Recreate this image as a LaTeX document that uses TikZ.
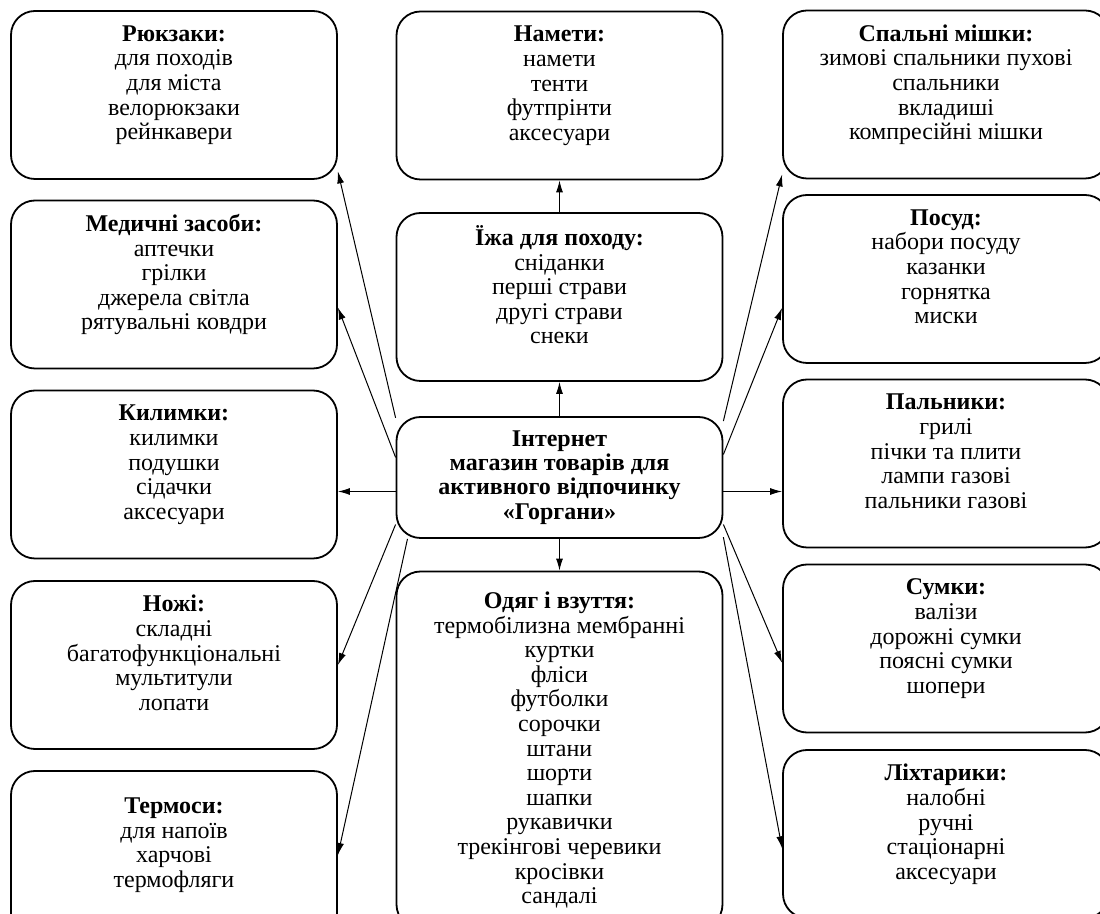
\documentclass[tikz,border=0pt]{standalone}
\usepackage{fontspec}
\setmainfont{Liberation Serif}
\usetikzlibrary{arrows.meta}

\begin{document}
\begin{tikzpicture}
    [
    x=0.5pt, y=-0.5pt,
    group/.style={draw,line width=0.9pt,rectangle,rounded corners=12pt,align=center,inner sep=0pt,minimum width=163pt,minimum height=84pt,font=\fontsize{12}{12.3}\selectfont},
    shop/.style={group,minimum height=60.5pt,font=\fontsize{12}{12.2}\selectfont\bfseries},
    arr/.style={-{Latex[length=6pt,width=3.5pt]},line width=0.5pt}
    ]
    \clip (0,0) rectangle (1100,914);
    % centre
    \node (shop) at (559.5,477.5) [shop] {Інтернет\\ магазин товарів для\\ активного відпочинку\\ «Горгани»};
    % left column
    \node (ryukzaky) at (174,95) [group] {\textbf{Рюкзаки:}\\ для походів\\ для міста\\ велорюкзаки\\ рейнкавери\\ \mbox{}};
    \node (medychni) at (174,284.5) [group] {\textbf{Медичні засоби:}\\ аптечки\\ грілки\\ джерела світла\\ рятувальні ковдри\\ \mbox{}};
    \node (kylymky) at (174,474.5) [group] {\textbf{Килимки:}\\ килимки\\ подушки\\ сідачки\\ аксесуари\\ \mbox{}};
    \node (nozhi) at (174,665) [group] {\textbf{Ножі:}\\ складні\\ багатофункціональні\\ мультитули\\ лопати\\ \mbox{}};
    \node (termosy) at (174,855) [group] {\textbf{Термоси:}\\ для напоїв\\ харчові\\ термофляги\\ \mbox{}};
    % middle column
    \node (nameti) at (559.5,95.5) [group] {\textbf{Намети:}\\ намети\\ тенти\\ футпрінти\\ аксесуари\\ \mbox{}};
    \node (yizha) at (559.5,297) [group] {\textbf{Їжа для походу:}\\ сніданки\\ перші страви\\ другі страви\\ снеки\\ \mbox{}};
    \node (odyah) at (559.5,750) [group,minimum height=178.5pt] {\textbf{Одяг і взуття:}\\ термобілизна мембранні\\ куртки\\ фліси\\ футболки\\ сорочки\\ штани\\ шорти\\ шапки\\ рукавички\\ трекінгові черевики\\ кросівки\\ сандалі};
    % right column
    \node (spalni) at (946,94.5) [group] {\textbf{Спальні мішки:}\\ зимові спальники пухові\\ спальники\\ вкладиші\\ компресійні мішки\\ \mbox{}};
    \node (posud) at (946,279) [group] {\textbf{Посуд:}\\ набори посуду\\ казанки\\ горнятка\\ миски\\ \mbox{}};
    \node (palnyky) at (946,463.5) [group] {\textbf{Пальники:}\\ грилі\\ пічки та плити\\ лампи газові\\ пальники газові\\ \mbox{}};
    \node (sumky) at (946,648.5) [group] {\textbf{Сумки:}\\ валізи\\ дорожні сумки\\ поясні сумки\\ шопери\\ \mbox{}};
    \node (likhtaryky) at (946,834) [group] {\textbf{Ліхтарики:}\\ налобні\\ ручні\\ стаціонарні\\ аксесуари\\ \mbox{}};
    % arrows
    \draw [arr] (shop.north) to (yizha.south);
    \draw [arr] (yizha.north) to (nameti.south);
    \draw [arr] (shop.south) to (odyah.north);
    \draw [arr] (shop.160) to (ryukzaky.-25);
    \draw [arr] (shop.173) to (medychni.-8);
    \draw [arr] ([yshift=-7pt]shop.west) to ([yshift=-7pt]shop.west -| kylymky.east);
    \draw [arr] (shop.196) to (nozhi.east);
    \draw [arr] (shop.202) to (termosy.east);
    \draw [arr] (shop.19) to (spalni.206);
    \draw [arr] (shop.8) to (posud.190);
    \draw [arr] ([yshift=-7pt]shop.east) to ([yshift=-7pt]shop.east -| palnyky.west);
    \draw [arr] (shop.-16) to (sumky.185);
    \draw [arr] (shop.-20) to (likhtaryky.185);
  \end{tikzpicture}
\end{document}
